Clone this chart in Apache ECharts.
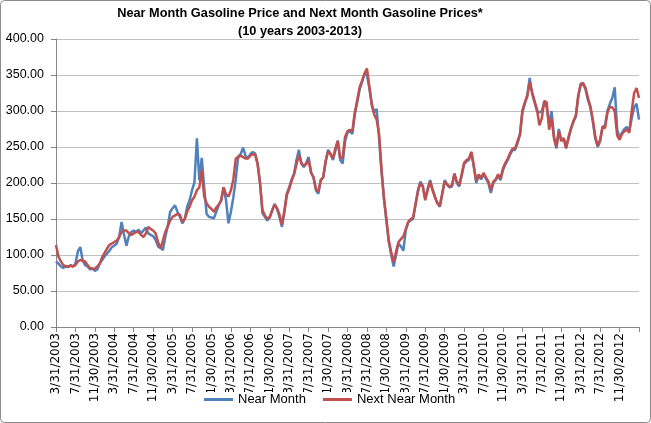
<!DOCTYPE html>
<html>
<head>
<meta charset="utf-8">
<script src="https://cdn.jsdelivr.net/npm/echarts@6/dist/echarts.min.js"></script>
<style>
html,body{margin:0;padding:0;background:#fff;}
#chart{width:651px;height:423px;}
</style>
</head>
<body>
<div id="chart"></div>
<script>
// Semi-monthly readings (month-end and mid-month), 3/31/2003 .. 3/31/2013
const nearMonth = [
  91,88,84,82,85,83,86,84,88,105,
  111,92,86,84,80,81,78,80,88,93,
  98,102,106,111,113,116,125,146,128,113,
  126,132,134,132,135,130,134,138,
  130,128,126,121,112,110,107,125,140,160,
  165,169,160,153,144,150,167,176,190,201,
  262,204,235,194,157,153,152,151,160,169,
  176,194,176,144,160,180,205,237,240,249,238,234,
  240,243,241,227,199,158,153,148,152,162,
  171,164,153,139,160,185,194,205,213,232,
  246,227,222,228,236,215,208,190,185,204,
  208,230,246,241,232,245,259,232,227,258,
  270,272,268,295,312,330,340,352,350,
  332,310,298,303,262,215,180,148,118,100,84,
  100,116,112,106,135,145,148,150,170,190,
  202,196,178,192,204,192,181,172,167,185,
  204,198,194,195,213,200,195,210,
  226,230,232,243,222,200,210,205,212,206,200,186,
  200,204,210,204,218,226,232,240,246,246,255,267,
  298,310,322,346,324,312,300,
  298,300,312,305,283,300,265,248,275,260,262,250,262,275,285,292,320,
  336,338,330,315,305,285,262,250,258,278,280,300,310,318,333,275,262,270,275,278,272,290,305,310,288
];
const nextNearMonth = [
  114,98,91,86,84,84,85,84,86,91,
  93,92,91,86,82,81,81,84,88,97,
  103,109,114,116,118,120,125,132,134,134,
  130,128,130,132,132,128,125,130,
  139,136,134,130,118,109,120,132,140,148,
  153,155,157,156,146,150,160,167,176,181,
  190,194,218,181,172,167,164,160,166,170,
  176,194,184,181,190,205,234,236,238,236,234,234,
  238,240,239,226,200,162,155,150,153,162,
  170,165,156,142,160,183,192,203,212,226,
  239,228,224,226,232,214,208,192,188,204,
  208,230,244,240,234,248,258,234,236,264,
  272,274,272,298,315,333,342,352,359,
  334,308,295,288,268,220,178,150,120,104,90,
  105,118,122,126,136,146,150,152,170,188,
  200,195,176,190,202,190,180,172,168,185,
  202,198,195,197,213,202,197,212,
  228,232,234,243,224,203,212,207,214,208,202,190,
  202,205,212,206,220,228,234,242,248,248,258,268,
  301,312,320,340,326,314,302,
  280,290,314,312,274,290,262,250,272,258,262,248,264,276,286,294,322,
  338,339,332,318,306,288,264,252,260,278,276,298,306,305,300,266,260,268,272,274,270,300,325,332,318
];
const tickLabels = [
  "3/31/2003","7/31/2003","11/30/2003","3/31/2004","7/31/2004","11/30/2004",
  "3/31/2005","7/31/2005","11/30/2005","3/31/2006","7/31/2006","11/30/2006",
  "3/31/2007","7/31/2007","11/30/2007","3/31/2008","7/31/2008","11/30/2008",
  "3/31/2009","7/31/2009","11/30/2009","3/31/2010","7/31/2010","11/30/2010",
  "3/31/2011","7/31/2011","11/30/2011","3/31/2012","7/31/2012","11/30/2012"
];
const seriesNames = ["Near Month", "Next Near Month"];

// Category dates: alternating month-end and mid-month
const categories = [];
for (let i = 0; i < nearMonth.length; i++) {
  if (i % 2 === 0) {
    const mi = 2 + i / 2;
    const y = 2003 + Math.floor(mi / 12), m = mi % 12 + 1;
    const day = new Date(y, m, 0).getDate();
    categories.push(m + "/" + day + "/" + y);
  } else {
    const mi = 2 + (i + 1) / 2;
    const y = 2003 + Math.floor(mi / 12), m = mi % 12 + 1;
    categories.push(m + "/15/" + y);
  }
}

const chart = echarts.init(document.getElementById('chart'), null, {renderer: 'canvas'});
const axisGray = '#868686';
const titleFont = "'Liberation Sans',Arial,sans-serif";
chart.setOption({
  animation: false,
  backgroundColor: '#ffffff',
  title: {
    text: 'Near Month Gasoline Price and Next Month Gasoline Prices*',
    subtext: '(10 years 2003-2013)',
    left: 300,
    top: 5,
    textAlign: 'center',
    itemGap: 1,
    padding: 0,
    textStyle: {fontFamily: titleFont, fontWeight: 'bold', fontSize: 12.75, color: '#000', lineHeight: 17},
    subtextStyle: {fontFamily: titleFont, fontWeight: 'bold', fontSize: 12.75, color: '#000', lineHeight: 17}
  },
  graphic: [{
    type: 'rect', silent: true, z: 100,
    shape: {x: 0.5, y: 0.5, width: 650, height: 422, r: 4},
    style: {fill: 'none', stroke: '#8a8a8a', lineWidth: 1}
  }],
  legend: {
    data: seriesNames,
    left: 202,
    top: 392,
    icon: 'rect',
    itemWidth: 29,
    itemHeight: 3,
    itemGap: 17,
    padding: [1, 2, 1, 2],
    backgroundColor: '#ffffff',
    textStyle: {fontFamily: "'Liberation Sans',Arial,sans-serif", fontSize: 13, color: '#000'}
  },
  grid: {left: 56, right: 12, top: 39, bottom: 96, containLabel: false},
  xAxis: {
    type: 'category',
    data: categories,
    boundaryGap: false,
    axisLine: {lineStyle: {color: axisGray, width: 1}},
    axisTick: {show: true, length: 5, interval: function (idx) { return idx % 8 === 0; }, lineStyle: {color: axisGray}},
    axisLabel: {
      rotate: 90,
      margin: 6,
      interval: function (idx, val) { return tickLabels.indexOf(val) >= 0; },
      fontFamily: "'DejaVu Sans',sans-serif",
      fontSize: 12,
      color: '#000'
    },
    splitLine: {show: false}
  },
  yAxis: {
    type: 'value',
    min: 0,
    max: 400,
    interval: 50,
    axisLine: {show: true, lineStyle: {color: axisGray, width: 1}},
    axisTick: {show: true, length: 5, lineStyle: {color: axisGray}},
    axisLabel: {
      margin: 12,
      formatter: function (v) { return v.toFixed(2); },
      fontFamily: "'Liberation Sans',Arial,sans-serif",
      fontSize: 12.5,
      color: '#000'
    },
    splitLine: {show: true, lineStyle: {color: '#bfbfbf', width: 1}}
  },
  series: [
    {
      name: seriesNames[0], type: 'line', data: nearMonth,
      showSymbol: false, symbol: 'none',
      lineStyle: {color: '#4F81BD', width: 2.5},
      itemStyle: {color: '#4F81BD'}
    },
    {
      name: seriesNames[1], type: 'line', data: nextNearMonth,
      showSymbol: false, symbol: 'none',
      lineStyle: {color: '#C0504D', width: 2.5},
      itemStyle: {color: '#C0504D'}
    }
  ]
});
</script>
</body>
</html>
